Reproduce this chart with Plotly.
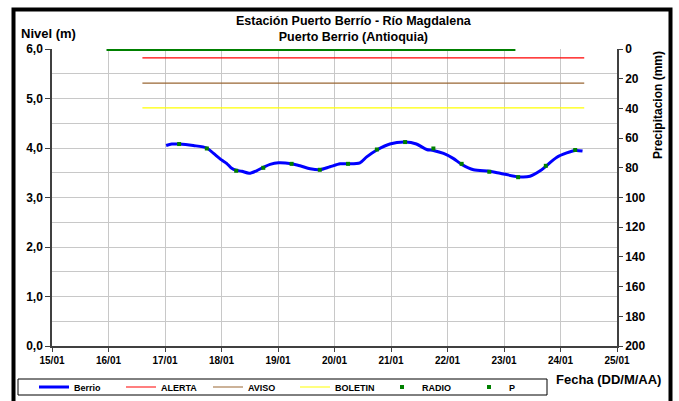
import plotly.graph_objects as go

# ---------------- data ----------------
day_ticks = [15, 16, 17, 18, 19, 20, 21, 22, 23, 24, 25]
day_labels = ["15/01", "16/01", "17/01", "18/01", "19/01", "20/01",
              "21/01", "22/01", "23/01", "24/01", "25/01"]

berrio_day = [17.02, 17.12, 17.25, 17.5, 17.74, 17.86, 18.0, 18.09, 18.18, 18.26,
              18.36, 18.49, 18.62, 18.74, 18.86, 19.01, 19.24, 19.39, 19.57, 19.74,
              19.92, 20.1, 20.24, 20.45, 20.57, 20.75, 20.98, 21.25, 21.45, 21.63,
              21.75, 21.93, 22.1, 22.25, 22.46, 22.74, 22.93, 23.25, 23.46, 23.64,
              23.74, 23.93, 24.11, 24.26, 24.39]
berrio_m = [4.05, 4.08, 4.08, 4.05, 4.00, 3.89, 3.76, 3.69, 3.59, 3.55,
            3.53, 3.49, 3.54, 3.61, 3.67, 3.70, 3.68, 3.64, 3.58, 3.56,
            3.62, 3.68, 3.68, 3.70, 3.82, 3.96, 4.08, 4.12, 4.08, 3.97,
            3.95, 3.89, 3.79, 3.67, 3.56, 3.53, 3.49, 3.42, 3.43, 3.54,
            3.63, 3.81, 3.90, 3.95, 3.94]

radio_day = [17.25, 17.74, 18.26, 18.74, 19.24, 19.74, 20.24, 20.75, 21.25,
             21.75, 22.25, 22.74, 23.25, 23.74, 24.26]
radio_m = [4.08, 3.99, 3.54, 3.60, 3.68, 3.56, 3.68, 3.97, 4.12,
           3.99, 3.68, 3.52, 3.41, 3.64, 3.96]

threshold_day = [16.6, 24.42]
alerta_m = [5.82, 5.82]
aviso_m = [5.31, 5.31]
boletin_m = [4.81, 4.81]

# precipitation: hourly readings, all zero, from 16/01 00h to 23/01 04h
p_hours = list(range(0, 7 * 24 + 5))
p_day = [16 + h / 24 for h in p_hours]
p_mm = [0.0 for _ in p_hours]

# ---------------- figure ----------------
FONT = "Liberation Sans, Arial, sans-serif"
fig = go.Figure()

fig.add_trace(go.Scatter(x=berrio_day, y=berrio_m, mode="lines", name="<b>Berrio</b>",
                         line=dict(color="#0000ff", width=3, shape="spline", smoothing=0.8)))
fig.add_trace(go.Scatter(x=threshold_day, y=alerta_m, mode="lines", name="<b>ALERTA</b>",
                         line=dict(color="#ff0000", width=1.2)))
fig.add_trace(go.Scatter(x=threshold_day, y=aviso_m, mode="lines", name="<b>AVISO</b>",
                         line=dict(color="#996633", width=1.2)))
fig.add_trace(go.Scatter(x=threshold_day, y=boletin_m, mode="lines", name="<b>BOLETIN</b>",
                         line=dict(color="#ffff00", width=1.2)))
fig.add_trace(go.Scatter(x=radio_day, y=radio_m, mode="markers", name="<b>RADIO</b>",
                         marker=dict(color="#008000", size=4, symbol="square")))
fig.add_trace(go.Scatter(x=p_day, y=p_mm, mode="markers", name="<b>P</b>", yaxis="y2",
                         marker=dict(color="#008000", size=4, symbol="square")))

grid = "#c8c8c8"
fig.update_layout(
    width=679, height=401,
    margin=dict(l=52, r=62, t=49, b=55, autoexpand=False),
    paper_bgcolor="white", plot_bgcolor="white",
    separators=",.",
    font=dict(family=FONT, color="black", size=11),
    showlegend=True,
    legend=dict(orientation="h", x=(34 - 52) / 565, y=(346 - 387) / 297,
                xanchor="left", yanchor="middle",
                borderwidth=0, font=dict(size=9, family=FONT),
                entrywidth=42, entrywidthmode="pixels", itemwidth=30,
                tracegroupgap=0, bgcolor="rgba(0,0,0,0)"),
    xaxis=dict(range=[15, 25], tickvals=day_ticks, ticktext=["<b>%s</b>" % t for t in day_labels],
               showgrid=True, gridcolor=grid, gridwidth=1,
               showline=True, linecolor="#404040", linewidth=1.5,
               ticks="outside", ticklen=4, tickcolor="#404040",
               tickfont=dict(size=10), zeroline=False),
    yaxis=dict(range=[0, 6], tickvals=[0, 1, 2, 3, 4, 5, 6],
               ticktext=["<b>0,0</b>", "<b>1,0</b>", "<b>2,0</b>", "<b>3,0</b>",
                         "<b>4,0</b>", "<b>5,0</b>", "<b>6,0</b>"],
               showgrid=True, gridcolor=grid, gridwidth=1,
               minor=dict(dtick=0.5, showgrid=True, gridcolor=grid, gridwidth=1),
               showline=True, linecolor="#404040", linewidth=1.5,
               ticks="outside", ticklen=5, tickcolor="#404040",
               tickfont=dict(size=12), zeroline=False),
    yaxis2=dict(range=[200, 0], overlaying="y", side="right",
                tickvals=list(range(0, 201, 20)),
                ticktext=["<b>%d</b>" % v for v in range(0, 201, 20)],
                showgrid=False, zeroline=False,
                showline=True, linecolor="#404040", linewidth=1.5,
                ticks="outside", ticklen=4, tickcolor="#404040",
                tickfont=dict(size=12)),
)

fig.add_annotation(text="<b>Estación Puerto Berrío - Río Magdalena</b><br><b>Puerto Berrio (Antioquia)</b>",
                   xref="paper", yref="paper", x=(354 - 52) / 565, y=(346 - 28.5) / 297,
                   xanchor="center", yanchor="middle", showarrow=False,
                   font=dict(size=12.5), align="center", borderpad=0)
fig.add_annotation(text="<b>Nivel (m)</b>", xref="paper", yref="paper",
                   x=(19 - 52) / 565, y=(346 - 34) / 297, xanchor="left", yanchor="middle",
                   showarrow=False, font=dict(size=13))
fig.add_annotation(text="<b>Precipitacion (mm)</b>", xref="paper", yref="paper",
                   x=(658 - 52) / 565, y=(346 - 105) / 297, xanchor="center", yanchor="middle",
                   textangle=-90, showarrow=False, font=dict(size=12))
fig.add_annotation(text="<b>Fecha (DD/M/AA)</b>", xref="paper", yref="paper",
                   x=(663 - 52) / 565, y=(346 - 379) / 297, xanchor="right", yanchor="middle",
                   showarrow=False, font=dict(size=13))

# legend box
fig.add_shape(type="rect", xref="paper", yref="paper",
              x0=(18 - 52) / 565, x1=(547 - 52) / 565,
              y0=(346 - 395) / 297, y1=(346 - 379) / 297,
              line=dict(color="black", width=1), fillcolor="rgba(0,0,0,0)", layer="above")
# outer frame
fig.add_shape(type="rect", xref="paper", yref="paper",
              x0=(13.5 - 52) / 565, x1=(670.5 - 52) / 565,
              y0=(346 - 410) / 297, y1=(346 - 9.5) / 297,
              line=dict(color="black", width=4), fillcolor="rgba(0,0,0,0)", layer="above")

fig.write_html("out.html", config={"displayModeBar": False},
               post_script="document.body.style.margin='0';document.body.style.overflow='hidden';")
